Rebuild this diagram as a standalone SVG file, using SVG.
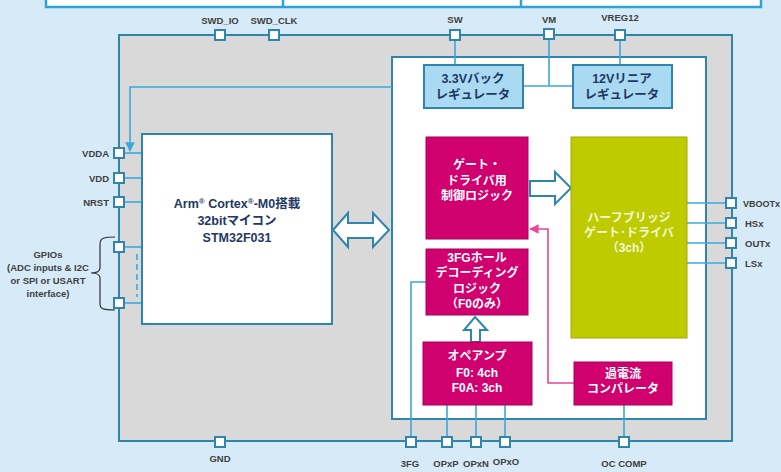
<svg xmlns="http://www.w3.org/2000/svg" width="781" height="472" viewBox="0 0 781 472">
<defs>
<style>
.box{stroke:#2F85AE;stroke-width:2}
.pin{fill:#fff;stroke:#2F85AE;stroke-width:2}
.ln{fill:none;stroke:#3AA8DC;stroke-width:1.6}
.pk{fill:none;stroke:#E8479A;stroke-width:1.6}
.hol{fill:#fff;stroke:#2F85AE;stroke-width:2;stroke-linejoin:miter}
.lbl{font-family:"Liberation Sans","Noto Sans",sans-serif;font-weight:bold;font-size:9.5px;fill:#404040}
.nv{font-family:"Liberation Sans","Noto Sans CJK JP",sans-serif;font-weight:bold;font-size:12.5px;fill:#1F3864;text-anchor:middle}
.wt{font-family:"Liberation Sans","Noto Sans CJK JP",sans-serif;font-weight:bold;font-size:12px;fill:#fff;text-anchor:middle}
.gt{font-family:"Liberation Sans","Noto Sans CJK JP",sans-serif;font-weight:bold;font-size:12px;fill:#F4F7D8;text-anchor:middle}
</style>
<marker id="ab" viewBox="0 0 10 10" refX="9" refY="5" markerWidth="6" markerHeight="6" orient="auto"><path d="M0,0L10,5L0,10z" fill="#3AA8DC"/></marker>
<marker id="ap" viewBox="0 0 10 10" refX="9" refY="5" markerWidth="6" markerHeight="6" orient="auto"><path d="M0,0L10,5L0,10z" fill="#E8479A"/></marker>
</defs>
<rect width="781" height="472" fill="#D6EBF7"/>
<g id="topstrip">
<rect x="46" y="-3" width="715" height="10" fill="#fff" stroke="#2EA3D8" stroke-width="2.5"/>
<line x1="283" y1="0" x2="283" y2="7" stroke="#2EA3D8" stroke-width="2.5"/>
<line x1="521" y1="0" x2="521" y2="7" stroke="#2EA3D8" stroke-width="2.5"/>
</g>
<g id="chip">
<rect class="box" x="119" y="35" width="613" height="406" fill="#D9D9D9"/>
</g>
<g id="inner">
<rect class="box" x="392" y="57" width="314" height="362" fill="#fff"/>
</g>
<g id="connectors">
<line class="ln" x1="455" y1="35" x2="455" y2="65"/>
<polyline class="ln" points="549,35 549,86"/>
<line class="ln" x1="523" y1="86" x2="573" y2="86"/>
<line class="ln" x1="620" y1="35" x2="620" y2="65"/>
<polyline class="ln" points="392,87 130,87 130,151" marker-end="url(#ab)"/>
<line class="ln" x1="119" y1="153" x2="142" y2="153"/>
<line class="ln" x1="119" y1="178" x2="142" y2="178"/>
<line class="ln" x1="119" y1="202" x2="142" y2="202"/>
<line class="ln" x1="119" y1="247" x2="142" y2="247"/>
<line class="ln" x1="119" y1="303" x2="142" y2="303"/>
<line class="ln" x1="137" y1="254" x2="137" y2="297" stroke-dasharray="6,4"/>
<line class="ln" x1="687" y1="203" x2="732" y2="203"/>
<line class="ln" x1="687" y1="223" x2="732" y2="223"/>
<line class="ln" x1="687" y1="243" x2="732" y2="243"/>
<line class="ln" x1="687" y1="263" x2="732" y2="263"/>
<polyline class="ln" points="426,282 411,282 411,441"/>
<line class="ln" x1="447" y1="405" x2="447" y2="441"/>
<line class="ln" x1="476" y1="405" x2="476" y2="441"/>
<line class="ln" x1="505" y1="405" x2="505" y2="441"/>
<line class="ln" x1="624" y1="405" x2="624" y2="441"/>
<polyline class="pk" points="574,383 548,383 548,229 530,229" marker-end="url(#ap)"/>
<polygon class="hol" points="333,230 348,213 348,223 373,223 373,213 389,230 373,247 373,238 348,238 348,247"/>
<polygon class="hol" points="530,181 555,181 555,172 571,188 555,204 555,196 530,196"/>
<polygon class="hol" points="475,317 487,330 480,330 480,342 471,342 471,330 464,330"/>
</g>
<g id="pins">
<rect class="pin" x="215" y="30" width="10" height="10"/>
<rect class="pin" x="269" y="30" width="10" height="10"/>
<rect class="pin" x="450" y="30" width="10" height="10"/>
<rect class="pin" x="544" y="29" width="10" height="10"/>
<rect class="pin" x="615" y="30" width="10" height="10"/>
<rect class="pin" x="114" y="148" width="10" height="10"/>
<rect class="pin" x="114" y="173" width="10" height="10"/>
<rect class="pin" x="114" y="197" width="10" height="10"/>
<rect class="pin" x="114" y="242" width="10" height="10"/>
<rect class="pin" x="114" y="298" width="10" height="10"/>
<rect class="pin" x="726" y="198" width="10" height="10"/>
<rect class="pin" x="726" y="218" width="10" height="10"/>
<rect class="pin" x="726" y="238" width="10" height="10"/>
<rect class="pin" x="726" y="258" width="10" height="10"/>
<rect class="pin" x="215" y="437" width="10" height="10"/>
<rect class="pin" x="406" y="437" width="10" height="10"/>
<rect class="pin" x="442" y="437" width="10" height="10"/>
<rect class="pin" x="471" y="437" width="10" height="10"/>
<rect class="pin" x="500" y="437" width="10" height="10"/>
<rect class="pin" x="619" y="437" width="10" height="10"/>
</g>
<g id="pin-labels" class="lbl">
<text x="220" y="24" text-anchor="middle">SWD_IO</text>
<text x="274" y="24" text-anchor="middle">SWD_CLK</text>
<text x="455" y="23" text-anchor="middle">SW</text>
<text x="549" y="23" text-anchor="middle">VM</text>
<text x="620" y="21" text-anchor="middle">VREG12</text>
<text x="109" y="157" text-anchor="end">VDDA</text>
<text x="109" y="182" text-anchor="end">VDD</text>
<text x="109" y="206" text-anchor="end">NRST</text>
<text x="743" y="207" font-size="9">VBOOTx</text>
<text x="745" y="227">HSx</text>
<text x="745" y="247">OUTx</text>
<text x="745" y="267">LSx</text>
<text x="220" y="462" text-anchor="middle">GND</text>
<text x="410" y="467" text-anchor="middle">3FG</text>
<text x="446" y="467" text-anchor="middle">OPxP</text>
<text x="476" y="467" text-anchor="middle">OPxN</text>
<text x="506" y="465" text-anchor="middle">OPxO</text>
<text x="624" y="467" text-anchor="middle">OC COMP</text>
</g>
<g id="gpios">
<path d="M115,237 C104,237 100,238 100,244 L100,268 C100,272 96,273 91,273 C96,273 100,274 100,278 L100,304 C100,309 104,310 115,310" fill="none" stroke="#333" stroke-width="1.2"/>
<g class="lbl" text-anchor="middle">
<text x="48" y="258">GPIOs</text>
<text x="48" y="271">(ADC inputs &amp; I2C</text>
<text x="48" y="284">or SPI or USART</text>
<text x="48" y="297">interface)</text>
</g>
</g>
<g id="mcu">
<rect class="box" x="142" y="134" width="190" height="190" fill="#fff"/>
<text class="nv" x="237" y="208">Arm<tspan font-size="8" dy="-4">®</tspan><tspan dy="4"> Cortex</tspan><tspan font-size="8" dy="-4">®</tspan><tspan dy="4">-M0搭載</tspan></text>
<text class="nv" x="237" y="225">32bitマイコン</text>
<text class="nv" x="237" y="242">STM32F031</text>
</g>
<g id="reg33">
<rect class="box" x="424" y="65" width="99" height="43" fill="#A9DAF2"/>
<text class="nv" x="473" y="83">3.3Vバック</text>
<text class="nv" x="473" y="99">レギュレータ</text>
</g>
<g id="reg12">
<rect class="box" x="573" y="65" width="99" height="43" fill="#A9DAF2"/>
<text class="nv" x="622" y="83">12Vリニア</text>
<text class="nv" x="622" y="99">レギュレータ</text>
</g>
<g id="gatelogic">
<rect x="426" y="137" width="102" height="102" fill="#D0006F" stroke="#A8005A" stroke-width="1"/>
<text class="wt" x="477" y="169">ゲート・</text>
<text class="wt" x="477" y="185">ドライバ用</text>
<text class="wt" x="477" y="200">制御ロジック</text>
</g>
<g id="halfbridge">
<rect x="571" y="137" width="116" height="201" fill="#BDCB00" stroke="#9FAA00" stroke-width="1"/>
<text class="gt" x="629" y="222">ハーフブリッジ</text>
<text class="gt" x="629" y="237">ゲート･ドライバ</text>
<text class="gt" x="629" y="252">（3ch）</text>
</g>
<g id="hall">
<rect x="426" y="249" width="102" height="66" fill="#D0006F" stroke="#A8005A" stroke-width="1"/>
<text class="wt" x="477" y="262">3FGホール</text>
<text class="wt" x="477" y="277">デコーディング</text>
<text class="wt" x="477" y="293">ロジック</text>
<text class="wt" x="477" y="308">（F0のみ）</text>
</g>
<g id="opamp">
<rect x="423" y="342" width="109" height="63" fill="#D0006F" stroke="#A8005A" stroke-width="1"/>
<text class="wt" x="477" y="360">オペアンプ</text>
<text class="wt" x="477" y="377">F0: 4ch</text>
<text class="wt" x="477" y="392">F0A: 3ch</text>
</g>
<g id="ocomp">
<rect x="574" y="362" width="98" height="43" fill="#D0006F" stroke="#A8005A" stroke-width="1"/>
<text class="wt" x="623" y="378">過電流</text>
<text class="wt" x="623" y="393">コンパレータ</text>
</g>
</svg>
